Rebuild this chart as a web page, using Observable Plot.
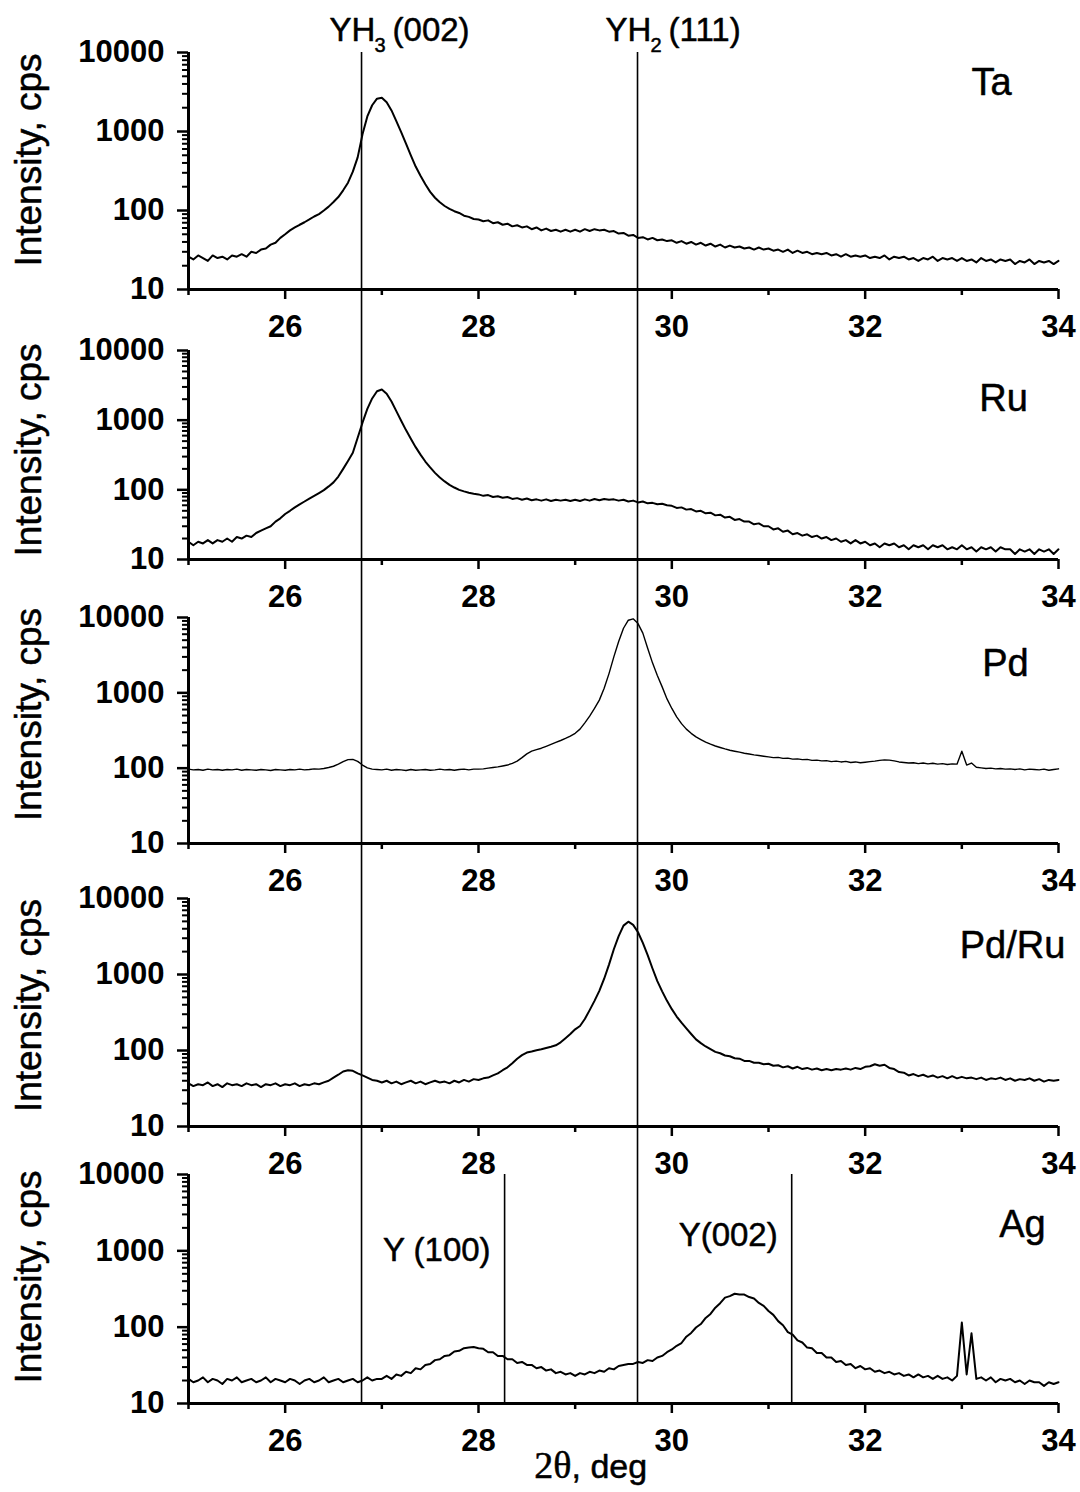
<!DOCTYPE html>
<html><head><meta charset="utf-8">
<script src="https://cdn.jsdelivr.net/npm/d3@7"></script>
<script src="https://cdn.jsdelivr.net/npm/@observablehq/plot@0.6"></script>
<style>
html,body{margin:0;padding:0;background:#fff;}
#chart{position:relative;width:1080px;height:1492px;overflow:hidden;background:#fff;}
#chart svg{position:absolute;left:0;overflow:visible;background:transparent;}
</style></head><body><div id="chart"></div>
<script>
// 2θ sampling (deg)
const angles = [
25,25.05,25.1,25.15,25.2,25.25,25.3,25.35,25.4,25.45,25.5,25.55,25.6,25.65,25.7,25.75,25.8,25.85,25.9,25.95,
26,26.05,26.1,26.15,26.2,26.25,26.3,26.35,26.4,26.45,26.5,26.55,26.6,26.65,26.7,26.75,26.8,26.85,26.9,26.95,
27,27.05,27.1,27.15,27.2,27.25,27.3,27.35,27.4,27.45,27.5,27.55,27.6,27.65,27.7,27.75,27.8,27.85,27.9,27.95,
28,28.05,28.1,28.15,28.2,28.25,28.3,28.35,28.4,28.45,28.5,28.55,28.6,28.65,28.7,28.75,28.8,28.85,28.9,28.95,
29,29.05,29.1,29.15,29.2,29.25,29.3,29.35,29.4,29.45,29.5,29.55,29.6,29.65,29.7,29.75,29.8,29.85,29.9,29.95,
30,30.05,30.1,30.15,30.2,30.25,30.3,30.35,30.4,30.45,30.5,30.55,30.6,30.65,30.7,30.75,30.8,30.85,30.9,30.95,
31,31.05,31.1,31.15,31.2,31.25,31.3,31.35,31.4,31.45,31.5,31.55,31.6,31.65,31.7,31.75,31.8,31.85,31.9,31.95,
32,32.05,32.1,32.15,32.2,32.25,32.3,32.35,32.4,32.45,32.5,32.55,32.6,32.65,32.7,32.75,32.8,32.85,32.9,32.95,
33,33.05,33.1,33.15,33.2,33.25,33.3,33.35,33.4,33.45,33.5,33.55,33.6,33.65,33.7,33.75,33.8,33.85,33.9,33.95,
34];

// Intensities (cps)
const taIntensity = [
26,24,27,25,23,27,25,26,24,27,26,28,26,30,29,32,33,37,39,45,
50,56,61,66,71,77,84,90,100,112,128,148,180,225,310,470,920,1550,2150,2600,
2680,2350,1850,1350,980,700,500,360,275,215,172,145,127,114,105,98,93,86,83,78,
77,73,75,69,71,66,68,63,65,61,63,58,61,56,59,55,57,54,57,54,
57,54,58,55,58,56,57,54,55,51,52,48,49,45,46,43,45,42,43,41,
42,39,41,38,40,37,39,36,38,35,37,34,36,34,35,33,34,32,34,32,
33,31,32,30,32,29,31,29,30,28,29,28,29,27,28,26,28,26,27,26,
27,25,26,25,27,24,26,25,26,24,25,23,25,24,26,23,25,24,25,23,
25,23,24,22,25,23,24,22,24,23,24,21,23,22,24,21,23,22,23,21,
23];

const ruIntensity = [
18,16,18,17,19,17,19,18,20,18,21,20,22,21,24,26,28,30,35,39,
45,50,56,62,68,75,82,90,99,112,128,155,200,260,340,560,920,1450,2050,2600,
2750,2400,1850,1350,980,720,540,410,320,255,210,175,150,132,118,108,100,95,91,88,
86,82,84,79,81,77,79,74,76,72,75,71,73,70,73,69,72,70,72,69,
72,69,73,70,74,71,74,72,73,70,72,68,70,66,68,64,65,62,63,60,
59,55,56,52,53,49,50,46,47,43,44,40,41,37,38,35,35,32,33,30,
30,27,28,25,26,23,24,22,23,21,22,20,21,19,20,18,19,17,19,17,
18,16,17,15,17,16,17,15,16,14,16,15,16,14,16,15,16,14,15,14,
16,14,15,13,15,14,15,13,15,14,14,12,14,13,14,12,14,13,14,12,
14];

const pdIntensity = [
97,95,96,94,97,95,96,94,96,95,97,94,96,95,94,96,95,93,96,95,
94,96,95,97,95,96,98,97,99,102,106,113,122,130,131,123,110,101,97,96,
95,97,94,96,95,93,96,94,95,96,94,95,97,95,96,94,96,97,95,97,
97,98,100,102,104,107,110,116,124,138,155,168,176,184,195,207,220,233,248,266,
290,330,400,490,620,800,1150,1800,3000,4800,7200,9200,9600,8300,6200,3900,2500,1700,1200,830,
620,480,390,330,290,260,240,222,208,197,188,180,173,168,163,158,154,150,147,144,
141,138,139,135,136,132,133,130,131,127,128,125,126,122,124,121,123,119,121,118,
120,122,124,127,129,128,125,121,119,117,118,115,117,114,116,113,115,112,114,113,
168,110,117,103,101,99,100,98,99,97,98,96,98,95,97,96,95,97,94,96,
98];

const pdRuIntensity = [
37,34,36,35,38,34,36,33,37,35,36,34,37,35,36,33,36,35,37,34,
36,35,37,34,36,35,37,36,38,40,44,48,53,55,54,50,47,44,41,40,
38,40,37,39,36,38,40,37,39,36,38,40,38,39,37,40,38,41,39,42,
41,43,44,47,50,55,60,68,78,87,94,97,101,104,108,112,117,128,145,165,
190,210,260,340,450,610,880,1350,2150,3200,4400,4950,4500,3600,2600,1800,1200,820,600,450,
350,280,232,195,165,140,125,113,104,96,92,86,84,79,78,73,73,69,69,66,
67,63,64,60,62,58,61,57,59,56,58,55,57,55,57,56,58,56,59,57,
61,62,66,63,65,59,57,52,51,47,49,46,48,45,47,44,46,43,46,43,
45,43,44,42,44,41,43,42,44,41,43,40,42,41,43,40,42,39,41,40,
41];

const agIntensity = [
21,19,20,22,19,21,20,18,21,20,22,19,20,21,19,20,22,19,21,20,
19,21,20,18,20,21,19,20,22,19,20,21,19,20,21,19,20,22,20,21,
21,23,21,24,23,26,25,29,28,32,33,37,38,42,43,48,49,53,54,55,
53,52,47,47,42,42,38,38,34,35,32,32,29,30,27,28,25,26,24,25,
23,25,24,26,25,27,26,29,28,31,32,33,33,35,34,37,36,40,42,47,
51,57,62,75,84,99,110,132,149,180,206,244,255,274,268,267,248,237,208,190,
163,145,120,106,86,80,67,63,54,53,46,46,40,40,35,36,32,33,29,31,
28,29,26,27,25,26,24,25,23,24,22,24,22,23,21,23,21,22,20,23,
115,24,83,21,22,20,22,19,21,20,21,19,20,18,20,19,19,17,19,18,
19];

const sampleNames = ["Ta", "Ru", "Pd", "Pd/Ru", "Ag"];
const sampleSeries = [taIntensity, ruIntensity, pdIntensity, pdRuIntensity, agIntensity];

// reference reflections (2θ)
const yh3Pos = 26.79;   // YH3 (002)
const yh2Pos = 29.645;  // YH2 (111)
const y100Pos = 28.27;  // Y (100)
const y002Pos = 31.24;  // Y(002)

// ticks
const xTicks = [26, 28, 30, 32, 34];
const xMinorTicks = [25, 27, 29, 31, 33];
const yTicks = [10, 100, 1000, 10000];
const yMinorTicks = [20,30,40,50,60,70,80,90,200,300,400,500,600,700,800,900,2000,3000,4000,5000,6000,7000,8000,9000];

const yAxisTitle = "Intensity, cps";

// ---- layout (pixels) ----
const panelLayout = [
  {top: 52,   bottom: 289,  labelDx: -67, labelDy: 30, titleDy: -11, lineWidth: 2.0},
  {top: 350,  bottom: 559,  labelDx: -55, labelDy: 48, titleDy: -5,  lineWidth: 2.0},
  {top: 617,  bottom: 843,  labelDx: -53, labelDy: 46, titleDy: -16, lineWidth: 1.4},
  {top: 898,  bottom: 1126, labelDx: -46, labelDy: 47, titleDy: -7,  lineWidth: 2.0},
  {top: 1174, bottom: 1403, labelDx: -36, labelDy: 50, titleDy: -12, lineWidth: 2.0}
];
const sans = "'Liberation Sans', Arial, Helvetica, sans-serif";
const serif = "'Liberation Serif', 'Times New Roman', serif";
const heavy = {stroke: "black", strokeWidth: 0.5};

const chart = document.getElementById("chart");
panelLayout.forEach((L, i) => {
  const mt = i === 0 ? L.top : 40;
  const mb = i === 4 ? 1492 - L.bottom : 60;
  const H = L.bottom - L.top;
  const gap = i < 4 ? panelLayout[i + 1].top - L.bottom : 0;
  const vals = sampleSeries[i];
  const marks = [
    Plot.ruleX([yh3Pos, yh2Pos], {stroke: "black", strokeWidth: 1.6, insetBottom: -gap}),
    ...(i === 4 ? [Plot.ruleX([y100Pos, y002Pos], {stroke: "black", strokeWidth: 1.6})] : []),
    Plot.line(vals, {x: angles, y: vals, stroke: "black", strokeWidth: L.lineWidth, strokeLinejoin: "round"}),
    Plot.ruleY([10], {stroke: "black", strokeWidth: 3}),
    Plot.ruleX([25], {stroke: "black", strokeWidth: 3}),
    Plot.axisX({ticks: xTicks, tickFormat: d => String(d), tickSize: 10, tickPadding: 15, strokeWidth: 2.5,
      fontSize: 31, fontWeight: "bold", fontFamily: sans, label: null}),
    Plot.axisX({ticks: xMinorTicks, tickSize: 6, strokeWidth: 2.5, text: null, label: null}),
    Plot.axisY({ticks: yTicks, tickFormat: d => String(d), tickSize: 11, tickPadding: 13, strokeWidth: 2.5,
      fontSize: 31, fontWeight: "bold", fontFamily: sans, label: null}),
    Plot.axisY({ticks: yMinorTicks, tickSize: 6, strokeWidth: 2, text: null, label: null}),
    Plot.text([sampleNames[i]], {text: d => d, frameAnchor: "top-right", dx: L.labelDx, dy: L.labelDy,
      fontSize: 38, fontFamily: sans, textAnchor: "middle", lineAnchor: "middle", fill: "black", ...heavy}),
    Plot.text([yAxisTitle], {text: d => d, frameAnchor: "left", rotate: -90, dx: -148, dy: L.titleDy,
      fontSize: 37, fontFamily: sans, textAnchor: "middle", lineAnchor: "bottom", fill: "black", ...heavy})
  ];
  if (i === 0) {
    marks.push(
      Plot.text([yh3Pos, yh2Pos], {x: d => d, text: ["YH", "YH"], frameAnchor: "top", dx: -32, dy: -12,
        textAnchor: "start", lineAnchor: "bottom", fontSize: 33, fontFamily: sans, fill: "black", ...heavy}),
      Plot.text([yh3Pos, yh2Pos], {x: d => d, text: ["3", "2"], frameAnchor: "top", dx: 13, dy: -1,
        textAnchor: "start", lineAnchor: "bottom", fontSize: 20, fontFamily: sans, fill: "black", ...heavy}),
      Plot.text([yh3Pos, yh2Pos], {x: d => d, text: ["(002)", "(111)"], frameAnchor: "top", dx: 31, dy: -12,
        textAnchor: "start", lineAnchor: "bottom", fontSize: 33, fontFamily: sans, fill: "black", ...heavy})
    );
  }
  if (i === 4) {
    marks.push(
      Plot.text([y100Pos], {x: d => d, text: ["Y (100)"], frameAnchor: "top", dx: -14, dy: 76,
        textAnchor: "end", lineAnchor: "middle", fontSize: 33, fontFamily: sans, fill: "black", ...heavy}),
      Plot.text([y002Pos], {x: d => d, text: ["Y(002)"], frameAnchor: "top", dx: -14, dy: 61,
        textAnchor: "end", lineAnchor: "middle", fontSize: 33, fontFamily: sans, fill: "black", ...heavy}),
      Plot.text(["2θ"], {text: d => d, frameAnchor: "bottom", dx: -52, dy: 74,
        textAnchor: "end", lineAnchor: "bottom", fontSize: 38, fontFamily: serif, fill: "black", ...heavy}),
      Plot.text([", deg"], {text: d => d, frameAnchor: "bottom", dx: -52, dy: 74,
        textAnchor: "start", lineAnchor: "bottom", fontSize: 34, fontFamily: sans, fill: "black", ...heavy})
    );
  }
  const svg = Plot.plot({
    width: 1080, height: mt + H + mb,
    marginTop: mt, marginBottom: mb, marginLeft: 188, marginRight: 22,
    x: {domain: [25, 34]},
    y: {type: "log", domain: [10, 10000]},
    style: {fontFamily: sans, background: "transparent", overflow: "visible", color: "black"},
    marks
  });
  svg.style.top = (L.top - mt) + "px";
  chart.appendChild(svg);
});
</script></body></html>
